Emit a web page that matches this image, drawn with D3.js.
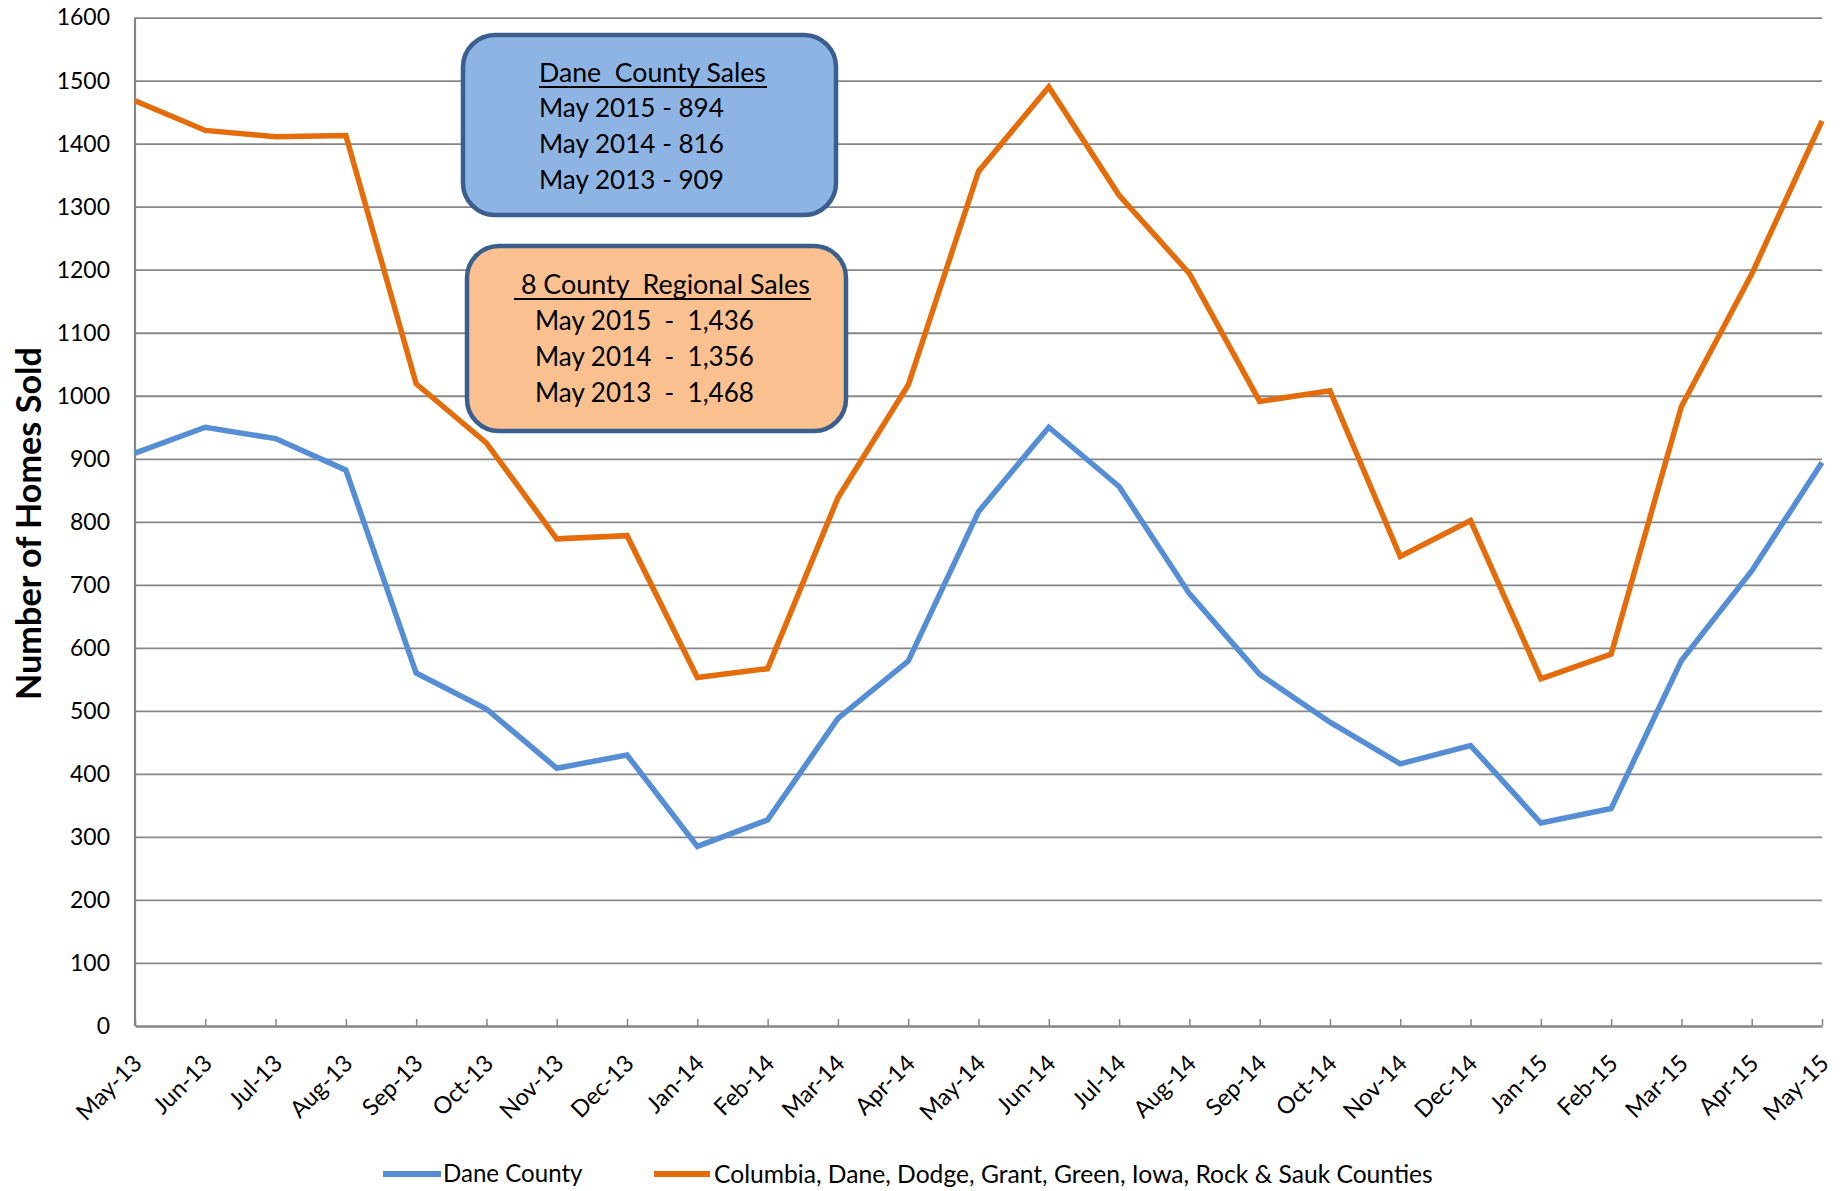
<!DOCTYPE html>
<html>
<head>
<meta charset="utf-8">
<script src="https://cdn.jsdelivr.net/npm/d3@7"></script>
<style>
  html, body { margin: 0; padding: 0; background: #fff; }
  svg { display: block; }
  text { font-family: Lato, "Open Sans", sans-serif; fill: #000; }
</style>
</head>
<body>
<svg id="chart" width="1845" height="1191"></svg>
<script>
// ---------------- DATA ----------------
const months = ["May-13","Jun-13","Jul-13","Aug-13","Sep-13","Oct-13","Nov-13","Dec-13",
  "Jan-14","Feb-14","Mar-14","Apr-14","May-14","Jun-14","Jul-14","Aug-14","Sep-14","Oct-14",
  "Nov-14","Dec-14","Jan-15","Feb-15","Mar-15","Apr-15","May-15"];
const daneCounty = [909, 950, 932, 882, 560, 503, 409, 430, 285, 327, 488, 579, 816,
  950, 856, 686, 558, 482, 416, 445, 322, 345, 580, 722, 894];
const regionalSales = [1468, 1421, 1411, 1413, 1019, 925, 773, 778, 553, 567, 838, 1017, 1356,
  1490, 1318, 1194, 991, 1008, 745, 802, 551, 590, 983, 1193, 1436];
const yTickValues = [0,100,200,300,400,500,600,700,800,900,1000,1100,1200,1300,1400,1500,1600];
const seriesNames = ["Dane County", "Columbia, Dane, Dodge, Grant, Green, Iowa, Rock & Sauk Counties"];
const yAxisTitle = "Number of Homes Sold";
const daneBoxTitle = "Dane  County Sales";
const daneBoxLines = ["May 2015 - 894", "May 2014 - 816", "May 2013 - 909"];
const regionBoxTitle = " 8 County  Regional Sales";
const regionBoxLines = ["May 2015  -  1,436", "May 2014  -  1,356", "May 2013  -  1,468"];

// ---------------- LAYOUT ----------------
const plotLeft = 135, plotRight = 1822, plotTop = 17.6, plotBottom = 1026;
const blue = "#558ED5", orange = "#E46C0A", grid = "#878787";

const svg = d3.select("#chart");

const x = d3.scalePoint().domain(months).range([plotLeft, plotRight]).padding(0);
const y = d3.scaleLinear().domain([0, 1600]).range([plotBottom, plotTop]);

function fit(sel, target) {
  const w = sel.node().getComputedTextLength();
  const fs = parseFloat(sel.attr("font-size"));
  sel.attr("font-size", fs * target / w);
  return sel;
}

// Y axis with gridlines
const yAxis = svg.append("g")
  .attr("transform", `translate(${plotLeft},0)`)
  .call(d3.axisLeft(y).tickValues(yTickValues).tickFormat(d3.format("d"))
    .tickSize(-(plotRight - plotLeft)).tickPadding(25));
yAxis.select(".domain").remove();
yAxis.selectAll(".tick line").attr("stroke", grid).attr("stroke-width", 1.8)
  .filter(d => d === 0).remove();
yAxis.selectAll(".tick text").attr("font-size", 23).attr("fill", "#000")
  .attr("font-family", "Lato, sans-serif");

// Y axis line
svg.append("line").attr("x1", plotLeft).attr("x2", plotLeft).attr("y1", plotTop).attr("y2", plotBottom)
  .attr("stroke", "#868686").attr("stroke-width", 2.2);

// X axis
const xAxis = svg.append("g")
  .attr("transform", `translate(0,${plotBottom})`)
  .call(d3.axisBottom(x).tickSize(-7).tickSizeOuter(0));
xAxis.select(".domain").attr("stroke", "#868686").attr("stroke-width", 2.5);
xAxis.selectAll(".tick line").attr("stroke", "#868686").attr("stroke-width", 1.5);
xAxis.selectAll(".tick text").remove();
xAxis.selectAll(".tick").append("text")
  .attr("transform", "translate(2,33) rotate(-45)")
  .attr("text-anchor", "end")
  .attr("dy", "0.35em")
  .attr("font-size", 23.5)
  .attr("font-family", "Lato, sans-serif")
  .attr("fill", "#000")
  .text(d => d);

// Lines
const line = d3.line().x((d, i) => x(months[i])).y(d => y(d));
svg.append("path").datum(daneCounty)
  .attr("d", line).attr("fill", "none").attr("stroke", blue)
  .attr("stroke-width", 5.5).attr("stroke-linejoin", "miter");
svg.append("path").datum(regionalSales)
  .attr("d", line).attr("fill", "none").attr("stroke", orange)
  .attr("stroke-width", 5.5).attr("stroke-linejoin", "miter");

// Y axis title
fit(svg.append("text")
  .attr("transform", "translate(41,523.5) rotate(-90)")
  .attr("text-anchor", "middle")
  .attr("font-weight", "bold")
  .attr("font-size", 30)
  .text(yAxisTitle), 353);

// Annotation boxes
function box(x0, y0, w, h, fill) {
  svg.append("rect").attr("x", x0).attr("y", y0).attr("width", w).attr("height", h)
    .attr("rx", 32).attr("ry", 32)
    .attr("fill", fill).attr("stroke", "#3A5F8E").attr("stroke-width", 4.5);
}
box(463, 35, 373, 180, "#8EB4E3");
box(467, 246, 379, 185, "#FAC090");

const t1 = svg.append("text").attr("x", 539).attr("y", 82).attr("font-size", 26)
  .style("white-space", "pre").text(daneBoxTitle);
fit(t1, 227);
svg.append("line").attr("x1", 539).attr("x2", 767).attr("y1", 87).attr("y2", 87)
  .attr("stroke", "#000").attr("stroke-width", 2);
let fsLines1 = null;
daneBoxLines.forEach((s, i) => {
  const t = svg.append("text").attr("x", 539).attr("y", 117 + i * 36).attr("font-size", 26).text(s);
  if (i === 0) { fit(t, 185); fsLines1 = t.attr("font-size"); } else t.attr("font-size", fsLines1);
});

const t2 = svg.append("text").attr("x", 514).attr("y", 294).attr("font-size", 26)
  .style("white-space", "pre").text(regionBoxTitle);
fit(t2, 296);
svg.append("line").attr("x1", 514).attr("x2", 811).attr("y1", 299).attr("y2", 299)
  .attr("stroke", "#000").attr("stroke-width", 2);
let fsLines2 = null;
regionBoxLines.forEach((s, i) => {
  const t = svg.append("text").attr("x", 535).attr("y", 330 + i * 36).attr("font-size", 26)
    .style("white-space", "pre").text(s);
  if (i === 0) { fit(t, 219); fsLines2 = t.attr("font-size"); } else t.attr("font-size", fsLines2);
});

// Legend
const legY = 1174;
svg.append("line").attr("x1", 383).attr("x2", 441).attr("y1", legY).attr("y2", legY)
  .attr("stroke", blue).attr("stroke-width", 6);
fit(svg.append("text").attr("x", 443).attr("y", legY).attr("dy", "0.35em")
  .attr("font-size", 22).text(seriesNames[0]), 139.5);
svg.append("line").attr("x1", 654).attr("x2", 710).attr("y1", legY).attr("y2", legY)
  .attr("stroke", orange).attr("stroke-width", 6);
fit(svg.append("text").attr("x", 714).attr("y", legY).attr("dy", "0.35em")
  .attr("font-size", 22).text(seriesNames[1]), 719);
</script>
</body>
</html>
